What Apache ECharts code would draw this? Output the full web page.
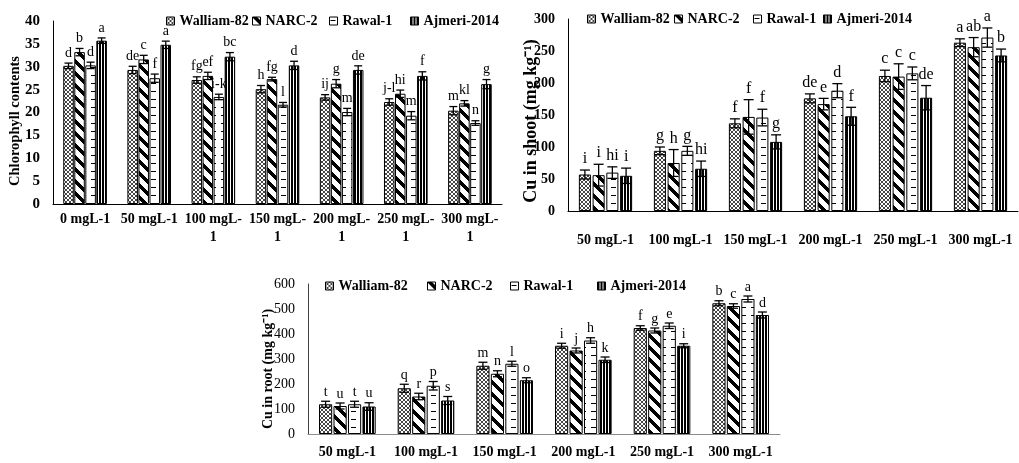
<!DOCTYPE html>
<html>
<head>
<meta charset="utf-8">
<script src="https://cdn.jsdelivr.net/npm/echarts@6/dist/echarts.min.js"></script>
<style>html,body{margin:0;padding:0;background:#fff}#c{width:1019px;height:463px}</style>
</head>
<body>
<div id="c"></div>
<script>
// ---------- DATA ----------
const varieties = ['Walliam-82', 'NARC-2', 'Rawal-1', 'Ajmeri-2014'];
const chlCats = ['0 mgL-1', '50 mgL-1', '100 mgL-\n1', '150 mgL-\n1', '200 mgL-\n1', '250 mgL-\n1', '300 mgL-\n1'];
const cuCats = ['50 mgL-1', '100 mgL-1', '150 mgL-1', '200 mgL-1', '250 mgL-1', '300 mgL-1'];

// Chlorophyll contents
const chlWalliam = [30.2, 29.3, 27.1, 25.1, 23.3, 22.3, 20.4];
const chlNarc    = [33.2, 31.6, 28.0, 27.3, 26.3, 24.1, 22.0];
const chlRawal   = [30.3, 27.5, 23.4, 21.7, 20.1, 19.3, 17.7];
const chlAjmeri  = [35.7, 34.8, 32.2, 30.3, 29.3, 28.0, 26.2];
const chlErrWalliam = [0.6, 0.8, 0.7, 0.8, 0.6, 0.7, 0.9];
const chlErrNarc    = [0.8, 0.9, 0.8, 0.4, 0.9, 0.8, 0.6];
const chlErrRawal   = [0.7, 0.9, 0.6, 0.5, 0.8, 0.9, 0.5];
const chlErrAjmeri  = [0.6, 0.8, 0.9, 0.9, 0.9, 0.9, 1.0];
const chlLetWalliam = ['d', 'de', 'fg', 'h', 'ij', 'j-l', 'm'];
const chlLetNarc    = ['b', 'c', 'ef', 'fg', 'g', 'hi', 'kl'];
const chlLetRawal   = ['d', 'f', 'i-k', 'l', 'm', 'm', 'n'];
const chlLetAjmeri  = ['a', 'a', 'bc', 'd', 'de', 'f', 'g'];

// Cu in shoot
const shootWalliam = [57, 94, 137, 176, 211, 263];
const shootNarc    = [56, 75, 147, 167, 210, 256];
const shootRawal   = [60, 94, 146, 188, 215, 271];
const shootAjmeri  = [55, 66, 108, 148, 177, 243];
const shootErrWalliam = [7, 6, 7, 7, 9, 6];
const shootErrNarc    = [17, 21, 27, 9, 20, 15];
const shootErrRawal   = [9, 7, 13, 11, 10, 15];
const shootErrAjmeri  = [12, 12, 11, 14, 19, 10];
const shootLetWalliam = ['i', 'g', 'f', 'de', 'c', 'a'];
const shootLetNarc    = ['i', 'h', 'f', 'e', 'c', 'ab'];
const shootLetRawal   = ['hi', 'g', 'f', 'd', 'c', 'a'];
const shootLetAjmeri  = ['i', 'hi', 'g', 'f', 'de', 'b'];

// Cu in root
const rootWalliam = [119, 183, 273, 353, 424, 523];
const rootNarc    = [112, 150, 241, 334, 414, 512];
const rootRawal   = [119, 193, 281, 374, 433, 540];
const rootAjmeri  = [110, 134, 215, 297, 353, 476];
const rootErrWalliam = [12, 16, 14, 10, 9, 10];
const rootErrNarc    = [12, 13, 12, 10, 10, 9];
const rootErrRawal   = [12, 17, 10, 11, 11, 12];
const rootErrAjmeri  = [15, 16, 10, 11, 8, 12];
const rootLetWalliam = ['t', 'q', 'm', 'i', 'f', 'b'];
const rootLetNarc    = ['u', 'r', 'n', 'j', 'g', 'c'];
const rootLetRawal   = ['t', 'p', 'l', 'h', 'e', 'a'];
const rootLetAjmeri  = ['u', 's', 'o', 'k', 'i', 'd'];

// ---------- PATTERNS ----------
function pat(w, h, fn) {
  const c = document.createElement('canvas');
  c.width = w; c.height = h;
  const ctx = c.getContext('2d');
  const img = ctx.createImageData(w, h);
  for (let y = 0; y < h; y++) for (let x = 0; x < w; x++) {
    const k = (y * w + x) * 4;
    const r = fn(x, y);
    const v = r === true ? 0 : (r === false || r == null ? 255 : r);
    img.data[k] = v; img.data[k + 1] = v; img.data[k + 2] = v; img.data[k + 3] = 255;
  }
  ctx.putImageData(img, 0, 0);
  return { image: c, repeat: 'repeat' };
}
const patterns = [
  pat(4, 4, (x, y) => (x === y || x + y === 3) ? 70 : 255),
  pat(12, 12, (x, y) => (((x - y) % 12) + 12) % 12 < 5),
  pat(10, 8, (x, y) => y === 3 && x >= 1 && x <= 5),
  pat(3, 1, (x, y) => x < 2)
];

// ---------- BUILD ----------
const FONT = 'Liberation Serif';
const chartDefs = [
  { cats: chlCats, vals: [chlWalliam, chlNarc, chlRawal, chlAjmeri],
    errs: [chlErrWalliam, chlErrNarc, chlErrRawal, chlErrAjmeri],
    lets: [chlLetWalliam, chlLetNarc, chlLetRawal, chlLetAjmeri],
    catGap: 0.32, gap: 0.05, cap: 8, letFont: 14, letOff: 3 },
  { cats: cuCats, vals: [shootWalliam, shootNarc, shootRawal, shootAjmeri],
    errs: [shootErrWalliam, shootErrNarc, shootErrRawal, shootErrAjmeri],
    lets: [shootLetWalliam, shootLetNarc, shootLetRawal, shootLetAjmeri],
    catGap: 0.29, gap: 0.14, cap: 10, letFont: 16, letOff: 3 },
  { cats: cuCats, vals: [rootWalliam, rootNarc, rootRawal, rootAjmeri],
    errs: [rootErrWalliam, rootErrNarc, rootErrRawal, rootErrAjmeri],
    lets: [rootLetWalliam, rootLetNarc, rootLetRawal, rootLetAjmeri],
    catGap: 0.28, gap: 0.10, cap: 9, letFont: 14, letOff: 2 }
];

const series = [];
chartDefs.forEach((cd, ci) => {
  varieties.forEach((name, vi) => {
    series.push({
      type: 'bar', name: name, xAxisIndex: ci, yAxisIndex: ci,
      data: cd.vals[vi],
      barCategoryGap: (cd.catGap * 100) + '%', barGap: (cd.gap * 100) + '%',
      itemStyle: { color: patterns[vi], borderColor: '#000', borderWidth: 1 },
      emphasis: { disabled: true }
    });
  });
  varieties.forEach((name, vi) => {
    const letters = cd.lets[vi];
    series.push({
      type: 'custom', name: 'err' + ci + '_' + vi, xAxisIndex: ci, yAxisIndex: ci, z: 5,
      data: cd.vals[vi].map((v, i) => [i, v, cd.errs[vi][i]]),
      encode: { x: 0, y: 1 },
      renderItem: function (params, api) {
        const cat = api.value(0), v = api.value(1), e = api.value(2);
        const base = api.coord([cat, v]);
        const top = api.coord([cat, v + e]);
        const bot = api.coord([cat, v - e]);
        const bw = api.size([1, 0])[0];
        const usable = bw * (1 - cd.catGap);
        const w = usable / (4 + 3 * cd.gap);
        const cx = base[0] - usable / 2 + vi * w * (1 + cd.gap) + w / 2;
        const hc = cd.cap / 2;
        const ls = { stroke: '#000', lineWidth: 1.3 };
        return { type: 'group', children: [
          { type: 'line', shape: { x1: cx, y1: top[1], x2: cx, y2: bot[1] }, style: ls },
          { type: 'line', shape: { x1: cx - hc, y1: top[1], x2: cx + hc, y2: top[1] }, style: ls },
          { type: 'line', shape: { x1: cx - hc, y1: bot[1], x2: cx + hc, y2: bot[1] }, style: ls },
          { type: 'text', style: { text: letters[params.dataIndex], x: cx, y: top[1] - cd.letOff,
            align: 'center', verticalAlign: 'bottom', textAlign: 'center', textVerticalAlign: 'bottom',
            font: cd.letFont + 'px "' + FONT + '"', fill: '#000' } }
        ] };
      }
    });
  });
});

function legendsFor(xs, cy) {
  return varieties.map((n, i) => ({
    data: [n], left: xs[i], top: cy - 7, padding: 0, icon: 'rect',
    itemWidth: 8, itemHeight: 8, selectedMode: false,
    itemStyle: { borderColor: '#000', borderWidth: 1 },
    textStyle: { fontFamily: FONT, fontWeight: 'bold', fontSize: 14, color: '#000' }
  }));
}

const xAxisBase = (gi, cats, margin, lineColor) => ({
  type: 'category', gridIndex: gi, data: cats,
  axisLine: { show: true, lineStyle: { color: lineColor, width: 1 } },
  axisTick: { show: false },
  axisLabel: { interval: 0, margin: margin, fontFamily: FONT, fontWeight: 'bold', fontSize: 14, color: '#000', lineHeight: 18 }
});
const yAxisBase = (gi, max, interval, bold, name, nameSize, gap, pad, lineColor, labSize) => ({
  type: 'value', gridIndex: gi, min: 0, max: max, interval: interval,
  axisLine: { show: true, lineStyle: { color: lineColor, width: 1 } },
  axisTick: { show: false }, splitLine: { show: false },
  axisLabel: { margin: 13, fontFamily: FONT, fontWeight: bold ? 'bold' : 'normal', fontSize: labSize, color: '#000' },
  name: name, nameLocation: 'middle', nameGap: gap, nameMoveOverlap: false,
  nameTextStyle: { fontFamily: FONT, fontWeight: 'bold', fontSize: nameSize, color: '#000', padding: [0, pad, 0, 0] }
});

const option = {
  animation: false,
  backgroundColor: '#fff',
  textStyle: { fontFamily: FONT },
  grid: [
    { left: 53, top: 21, width: 449, height: 183 },
    { left: 568, top: 19, width: 450, height: 192 },
    { left: 308, top: 284, width: 472, height: 150 }
  ],
  legend: [].concat(
    legendsFor([166, 252, 329, 410], 21),
    legendsFor([587, 674, 753, 823], 19),
    legendsFor([325, 427, 510, 597], 286)
  ),
  xAxis: [
    xAxisBase(0, chlCats, 6, '#000'),
    xAxisBase(1, cuCats, 20, '#000'),
    xAxisBase(2, cuCats, 9, '#8c8c8c')
  ],
  yAxis: [
    yAxisBase(0, 40, 5, true, 'Chlorophyll contents', 14.5, 30, 17, '#000', 15),
    yAxisBase(1, 300, 50, true, 'Cu in shoot (mg kg\u207B\u00B9)', 18, 28, 12, '#000', 14),
    yAxisBase(2, 600, 100, false, 'Cu in root (mg kg\u207B\u00B9)', 14, 33, 20, '#404040', 14)
  ],
  series: series
};

const chart = echarts.init(document.getElementById('c'), null, { renderer: 'canvas' });
chart.setOption(option);
</script>
</body>
</html>
